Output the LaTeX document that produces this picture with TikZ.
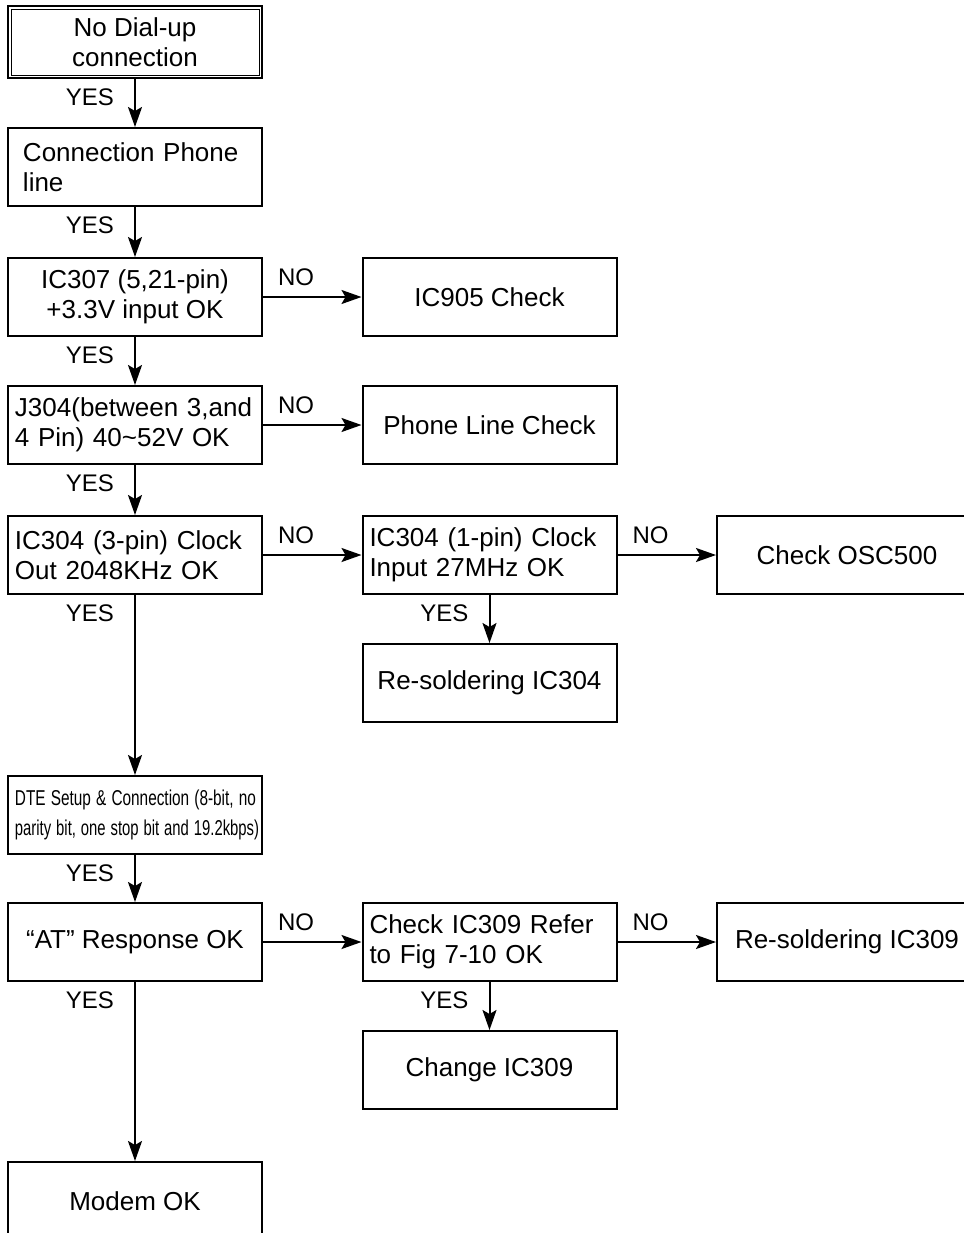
\documentclass[tikz,border=0pt]{standalone}
\usepackage{fontspec}
\usepackage{graphicx}
\setmainfont{Liberation Sans}
\usetikzlibrary{arrows.meta}

\newcommand{\narrowline}[2][0.72]{\scalebox{#1}[1]{#2}}

\tikzset{
  box/.style={draw, line width=1pt, minimum width=127pt, minimum height=39pt,
    inner sep=0pt, align=center, font=\fontsize{13}{15}\selectfont},
  lbox/.style={box, align=left, text width=120pt, inner xsep=3.5pt},
  arr/.style={line width=1pt, -{Stealth[length=10pt, width=7pt, inset=2pt]}},
  yeslbl/.style={anchor=north east, inner sep=0pt, xshift=-10pt, yshift=-4.5pt,
    font=\fontsize{12}{14}\selectfont},
  nolbl/.style={anchor=south west, inner sep=0pt, xshift=7pt, yshift=5pt,
    font=\fontsize{12}{14}\selectfont},
}

\begin{document}
\begin{tikzpicture}[x=0.5pt, y=-0.5pt]

\useasboundingbox (0,0) rectangle (964,1233);
\clip (0,0) rectangle (964,1233);

% left column
\node [box, minimum height=36pt] (start) at (135,42) {No Dial-up\\connection};
\draw [thin] ([shift={(2pt,-2pt)}]start.north west) rectangle ([shift={(-2pt,2pt)}]start.south east);
\node [lbox, text width=112pt, inner xsep=7.5pt] (phone) at (135,167) {Connection Phone\\line};
\node [box] (ic307) at (135,297) {IC307 (5,21-pin)\\+3.3V input OK};
\node [lbox] (j304)  at (135,425) {J304(between 3,and\\4 Pin) 40\textasciitilde52V OK};
\node [lbox] (clk)   at (135,555) {IC304 (3-pin) Clock\\Out 2048KHz OK};
\node [lbox, font=\fontsize{10.75}{15}\selectfont] (dte) at (135,815)
  {\narrowline[0.715]{DTE Setup \& Connection (8-bit, no}\\
   \narrowline[0.69]{parity bit, one stop bit and 19.2kbps)}};
\node [box] (at)     at (135,942) {``AT'' Response OK};
\node [box] (modem)  at (135,1201) {Modem OK};

% middle column
\node [box] (ic905)  at (489.5,297) {IC905 Check};
\node [box] (line)   at (489.5,425) {Phone Line Check};
\node [lbox] (clkin) at (489.5,555) {IC304 (1-pin) Clock\\Input 27MHz OK};
\node [box] (rs304)  at (489.5,683) {Re-soldering IC304};
\node [lbox] (ic309) at (489.5,942) {Check IC309 Refer\\to Fig 7-10 OK};
\node [box] (ch309)  at (489.5,1070) {Change IC309};

% right column (cut by the page edge)
\node [box, minimum width=130pt] (osc)   at (847,555) {Check OSC500};
\node [box, minimum width=130pt] (rs309) at (847,942) {Re-soldering IC309};

% YES
\draw [arr] (start.south) -- (phone.north) node [yeslbl, at start] {YES};
\draw [arr] (phone.south) -- (ic307.north) node [yeslbl, at start] {YES};
\draw [arr] (ic307.south) -- (j304.north)  node [yeslbl, at start] {YES};
\draw [arr] (j304.south)  -- (clk.north)   node [yeslbl, at start] {YES};
\draw [arr] (clk.south)   -- (dte.north)   node [yeslbl, at start] {YES};
\draw [arr] (dte.south)   -- (at.north)    node [yeslbl, at start] {YES};
\draw [arr] (at.south)    -- (modem.north) node [yeslbl, at start] {YES};
\draw [arr] (clkin.south) -- (rs304.north) node [yeslbl, at start] {YES};
\draw [arr] (ic309.south) -- (ch309.north) node [yeslbl, at start] {YES};

% NO
\draw [arr] (ic307.east) -- (ic905.west) node [nolbl, at start] {NO};
\draw [arr] (j304.east)  -- (line.west)  node [nolbl, at start] {NO};
\draw [arr] (clk.east)   -- (clkin.west) node [nolbl, at start] {NO};
\draw [arr] (clkin.east) -- (osc.west)   node [nolbl, at start] {NO};
\draw [arr] (at.east)    -- (ic309.west) node [nolbl, at start] {NO};
\draw [arr] (ic309.east) -- (rs309.west) node [nolbl, at start] {NO};

\end{tikzpicture}
\end{document}
